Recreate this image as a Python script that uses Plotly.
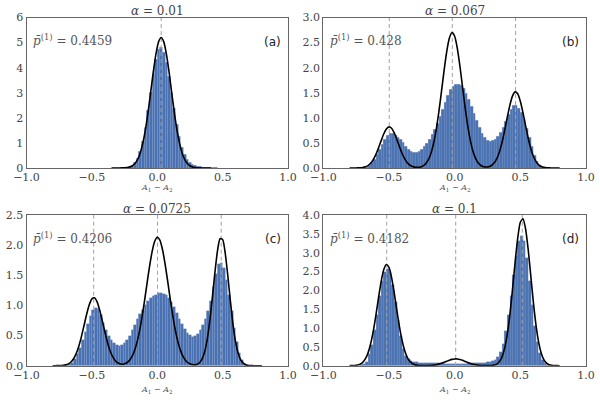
import plotly.graph_objects as go
from plotly.subplots import make_subplots

# ---------------- data ----------------
alphas = ["0.01", "0.067", "0.0725", "0.1"]
pbar = ["0.4459", "0.428", "0.4206", "0.4182"]
panel_tags = ["(a)", "(b)", "(c)", "(d)"]

hist_a_x = [-0.25, -0.23, -0.21, -0.19, -0.17, -0.15, -0.13, -0.11, -0.09, -0.07,
            -0.05, -0.03, -0.01, 0.01, 0.03, 0.05, 0.07, 0.09, 0.11, 0.13,
            0.15, 0.17, 0.19, 0.21, 0.23, 0.25, 0.27, 0.29, 0.31, 0.33,
            0.35, 0.37, 0.39, 0.41, 0.43, 0.45]
hist_a = [0.01, 0.02, 0.05, 0.11, 0.21, 0.39, 0.67, 1.07, 1.62, 2.29,
          3.02, 3.74, 4.34, 4.71, 4.79, 4.61, 4.21, 3.65, 3.01, 2.36,
          1.75, 1.24, 0.83, 0.53, 0.32, 0.20, 0.12, 0.08, 0.06, 0.05,
          0.04, 0.03, 0.02, 0.015, 0.01, 0.005]

hist_x = [-0.71, -0.69, -0.67, -0.65, -0.63, -0.61, -0.59, -0.57, -0.55, -0.53,
          -0.51, -0.49, -0.47, -0.45, -0.43, -0.41, -0.39, -0.37, -0.35, -0.33,
          -0.31, -0.29, -0.27, -0.25, -0.23, -0.21, -0.19, -0.17, -0.15, -0.13,
          -0.11, -0.09, -0.07, -0.05, -0.03, -0.01,
          0.01, 0.03, 0.05, 0.07, 0.09, 0.11, 0.13, 0.15, 0.17, 0.19,
          0.21, 0.23, 0.25, 0.27, 0.29, 0.31, 0.33, 0.35, 0.37, 0.39,
          0.41, 0.43, 0.45, 0.47, 0.49, 0.51, 0.53, 0.55, 0.57, 0.59,
          0.61, 0.63, 0.65, 0.67, 0.69, 0.71]
hist_b = [0.0,
          0.005, 0.02, 0.05, 0.10, 0.17, 0.26, 0.36, 0.47, 0.57, 0.64,
          0.68, 0.68, 0.64, 0.61, 0.57, 0.50, 0.43, 0.37, 0.33, 0.31,
          0.31, 0.33, 0.37, 0.42, 0.49, 0.57, 0.66, 0.77, 0.89, 1.03,
          1.17, 1.31, 1.45, 1.56, 1.63,
          1.66, 1.67, 1.64, 1.58, 1.48, 1.36, 1.22, 1.08, 0.94, 0.80,
          0.68, 0.60, 0.55, 0.53, 0.54, 0.57, 0.62, 0.70, 0.80, 0.93,
          1.06, 1.17, 1.24, 1.24, 1.19, 1.10, 0.96, 0.79, 0.60, 0.42,
          0.25, 0.12, 0.05, 0.015, 0.005,
          0.0]
hist_c = [0.0,
          0.005, 0.02, 0.05, 0.11, 0.19, 0.29, 0.42, 0.56, 0.70, 0.82,
          0.92, 0.96, 0.94, 0.84, 0.71, 0.60, 0.50, 0.43, 0.38, 0.34,
          0.33, 0.35, 0.38, 0.43, 0.50, 0.59, 0.68, 0.77, 0.85, 0.93,
          1.01, 1.08, 1.13, 1.16, 1.18,
          1.20, 1.21, 1.19, 1.17, 1.12, 1.05, 0.97, 0.88, 0.78, 0.69,
          0.61, 0.55, 0.51, 0.48, 0.49, 0.53, 0.59, 0.67, 0.77, 0.90,
          1.08, 1.31, 1.52, 1.68, 1.71, 1.62, 1.42, 1.17, 0.90, 0.63,
          0.40, 0.21, 0.09, 0.03, 0.01,
          0.0]
hist_d = [0.01, 0.04, 0.10, 0.30, 0.55, 0.95, 1.35, 1.85, 2.25, 2.50,
          2.58, 2.48, 2.15, 1.70, 1.20, 0.78, 0.45, 0.27, 0.17, 0.12,
          0.10, 0.09, 0.08, 0.08, 0.07, 0.07, 0.07, 0.06, 0.06, 0.06,
          0.06, 0.06, 0.05, 0.05, 0.05, 0.05,
          0.05, 0.05, 0.05, 0.05, 0.05, 0.06, 0.06, 0.06, 0.06, 0.07,
          0.07, 0.08, 0.09, 0.10, 0.12, 0.15, 0.24, 0.36, 0.58, 0.92,
          1.35, 1.85, 2.40, 2.90, 3.30, 3.45, 3.30, 2.85, 2.25, 1.60,
          1.05, 0.62, 0.33, 0.16, 0.06, 0.02]

curve_a_x = [-0.35, -0.33, -0.31, -0.29, -0.27, -0.25, -0.23, -0.21, -0.19, -0.17,
             -0.15, -0.13, -0.11, -0.09, -0.07, -0.05, -0.03, -0.01, 0.01, 0.03,
             0.05, 0.07, 0.09, 0.11, 0.13, 0.15, 0.17, 0.19, 0.21, 0.23,
             0.25, 0.27, 0.29, 0.31, 0.33, 0.35, 0.37, 0.39, 0.41]
curve_a = [0, 0, 0.001, 0.001, 0.003, 0.007, 0.017, 0.04, 0.088, 0.18,
           0.34, 0.60, 1.00, 1.54, 2.24, 3.03, 3.84, 4.54, 5.03, 5.2,
           5.03, 4.54, 3.84, 3.03, 2.24, 1.54, 1.00, 0.60, 0.34, 0.18,
           0.088, 0.04, 0.017, 0.007, 0.003, 0.001, 0.001, 0, 0]

curve_x = [-0.80, -0.78, -0.76, -0.74, -0.72, -0.70, -0.68, -0.66, -0.64, -0.62,
           -0.60, -0.58, -0.56, -0.54, -0.52, -0.50, -0.48, -0.46, -0.44, -0.42,
           -0.40, -0.38, -0.36, -0.34, -0.32, -0.30, -0.28, -0.26, -0.24, -0.22,
           -0.20, -0.18, -0.16, -0.14, -0.12, -0.10, -0.08, -0.06, -0.04, -0.02,
           0.00, 0.02, 0.04, 0.06, 0.08, 0.10, 0.12, 0.14, 0.16, 0.18,
           0.20, 0.22, 0.24, 0.26, 0.28, 0.30, 0.32, 0.34, 0.36, 0.38,
           0.40, 0.42, 0.44, 0.46, 0.48, 0.50, 0.52, 0.54, 0.56, 0.58,
           0.60, 0.62, 0.64, 0.66, 0.68, 0.70, 0.72, 0.74, 0.76, 0.78, 0.80]
curve_b = [0, 0, 0.001, 0.002, 0.004, 0.010, 0.023, 0.048, 0.093, 0.164,
           0.266, 0.396, 0.541, 0.678, 0.778, 0.820, 0.792, 0.701, 0.570, 0.425,
           0.290, 0.182, 0.105, 0.055, 0.028, 0.015, 0.013, 0.021, 0.043, 0.087,
           0.165, 0.295, 0.493, 0.770, 1.123, 1.531, 1.952, 2.327, 2.592, 2.700,
           2.627, 2.390, 2.033, 1.617, 1.202, 0.834, 0.542, 0.329, 0.187, 0.099,
           0.050, 0.027, 0.019, 0.026, 0.050, 0.099, 0.183, 0.316, 0.504, 0.740,
           1.001, 1.248, 1.433, 1.518, 1.481, 1.331, 1.104, 0.843, 0.594, 0.385,
           0.230, 0.127, 0.064, 0.030, 0.013, 0.005, 0.002, 0.001, 0, 0, 0]
curve_c = [0, 0, 0.001, 0.002, 0.006, 0.014, 0.030, 0.061, 0.115, 0.200,
           0.323, 0.482, 0.666, 0.853, 1.011, 1.109, 1.126, 1.059, 0.921, 0.743,
           0.554, 0.382, 0.244, 0.146, 0.081, 0.044, 0.028, 0.026, 0.040, 0.071,
           0.126, 0.215, 0.347, 0.528, 0.760, 1.037, 1.338, 1.632, 1.885, 2.060,
           2.130, 2.083, 1.927, 1.687, 1.398, 1.096, 0.813, 0.570, 0.379, 0.238,
           0.141, 0.079, 0.042, 0.023, 0.015, 0.020, 0.042, 0.099, 0.211, 0.409,
           0.709, 1.100, 1.526, 1.895, 2.106, 2.094, 1.864, 1.484, 1.058, 0.674,
           0.385, 0.197, 0.090, 0.037, 0.013, 0.004, 0.001, 0, 0, 0, 0]
curve_d = [0.001, 0.002, 0.006, 0.017, 0.040, 0.088, 0.179, 0.334, 0.575, 0.911,
           1.332, 1.794, 2.227, 2.548, 2.687, 2.612, 2.339, 1.931, 1.469, 1.030,
           0.665, 0.396, 0.217, 0.110, 0.051, 0.022, 0.009, 0.003, 0.002, 0.002,
           0.004, 0.008, 0.015, 0.026, 0.042, 0.064, 0.090, 0.119, 0.147, 0.168,
           0.179, 0.178, 0.164, 0.142, 0.114, 0.085, 0.059, 0.038, 0.023, 0.013,
           0.007, 0.003, 0.002, 0.003, 0.006, 0.016, 0.043, 0.104, 0.228, 0.452,
           0.818, 1.344, 2.010, 2.733, 3.382, 3.808, 3.898, 3.631, 3.077, 2.371,
           1.662, 1.060, 0.615, 0.325, 0.156, 0.068, 0.027, 0.010, 0.003, 0.001, 0]

peaks_a = [0.03]
peaks_b = [-0.498, -0.018, 0.464]
peaks_c = [-0.486, 0.002, 0.489]
peaks_d = [-0.517, 0.008, 0.515]

x_tickvals = [-1.0, -0.5, 0.0, 0.5, 1.0]
x_ticktext = ["\u22121.0", "\u22120.5", "0.0", "0.5", "1.0"]
y_ticks_a = [0, 1, 2, 3, 4, 5, 6]
y_ticktext_a = ["0", "1", "2", "3", "4", "5", "6"]
y_ticks_b = [0, 0.5, 1.0, 1.5, 2.0, 2.5, 3.0]
y_ticks_c = [0, 0.5, 1.0, 1.5, 2.0, 2.5]
y_ticks_d = [0, 0.5, 1.0, 1.5, 2.0, 2.5, 3.0, 3.5, 4.0]
y_ranges = [[0, 6], [0, 3], [0, 2.5], [0, 4]]

# ---------------- figure ----------------
fig = make_subplots(rows=2, cols=2)

panels = [
    (1, 1, hist_a_x, hist_a, curve_a_x, curve_a, peaks_a),
    (1, 2, hist_x, hist_b, curve_x, curve_b, peaks_b),
    (2, 1, hist_x, hist_c, curve_x, curve_c, peaks_c),
    (2, 2, hist_x, hist_d, curve_x, curve_d, peaks_d),
]

BAR = "#4A72B2"
for i, (r, c, hx, hy, cx, cy, pk) in enumerate(panels):
    fig.add_trace(go.Bar(x=hx, y=hy, width=0.02, marker=dict(color=BAR,
                  line=dict(color="rgba(120,150,200,0.6)", width=0.3)),
                  showlegend=False, hoverinfo="skip"), row=r, col=c)
    ymax = y_ranges[i][1]
    for p in pk:
        fig.add_trace(go.Scatter(x=[p, p], y=[0, ymax], mode="lines",
                                 line=dict(color="#a0a0a0", width=1, dash="4px,3px"),
                                 showlegend=False, hoverinfo="skip"), row=r, col=c)
    fig.add_trace(go.Scatter(x=cx, y=cy, mode="lines",
                             line=dict(color="black", width=1.6, shape="spline", smoothing=0.6),
                             showlegend=False, hoverinfo="skip"), row=r, col=c)

# domains in pixels (600x400)
W, H = 600.0, 400.0
dom = {
    1: ([26.5 / W, 288 / W], [1 - 168 / H, 1 - 17.5 / H]),
    2: ([323.3 / W, 586 / W], [1 - 168 / H, 1 - 17.5 / H]),
    3: ([26.5 / W, 288 / W], [1 - 365.7 / H, 1 - 215 / H]),
    4: ([323.3 / W, 586 / W], [1 - 365.7 / H, 1 - 215 / H]),
}
ytv = [y_ticks_a, y_ticks_b, y_ticks_c, y_ticks_d]
ytt = [y_ticktext_a,
       ["%.1f" % v for v in y_ticks_b],
       ["%.1f" % v for v in y_ticks_c],
       ["%.1f" % v for v in y_ticks_d]]

tickfont = dict(family="DejaVu Serif", size=11, color="#444444")
axis_common = dict(showgrid=False, zeroline=False, showline=True, mirror=True,
                   linecolor="#666666", linewidth=1, ticks="", tickfont=tickfont,
                   automargin=False)
for k in range(1, 5):
    sx = "" if k == 1 else str(k)
    fig.layout["xaxis" + sx].update(domain=dom[k][0], range=[-1, 1],
                                    tickvals=x_tickvals, ticktext=x_ticktext,
                                    ticklabelstandoff=-1, **axis_common)
    fig.layout["yaxis" + sx].update(domain=dom[k][1], range=y_ranges[k - 1],
                                    tickvals=ytv[k - 1], ticktext=ytt[k - 1],
                                    ticklabelstandoff=0, **axis_common)

annots = []
xlab_y = [1 - 188 / H, 1 - 188 / H, 1 - 390 / H, 1 - 390 / H]
for k in range(1, 5):
    sx = "" if k == 1 else str(k)
    xd = "x" + sx + " domain"
    yd = "y" + sx + " domain"
    annots.append(dict(xref=xd, yref=yd, x=0.5, y=1.0, yanchor="bottom", yshift=-3,
                       text="<i>\u03b1</i> = " + alphas[k - 1], showarrow=False,
                       font=dict(family="DejaVu Serif", size=12, color="#444444")))
    annots.append(dict(xref=xd, yref=yd, x=0.018, y=0.85, xanchor="left", yanchor="middle",
                       text="<i>p\u0304</i><sup>(1)</sup> = " + pbar[k - 1], showarrow=False,
                       font=dict(family="DejaVu Serif", size=12, color="#555555")))
    annots.append(dict(xref=xd, yref=yd, x=0.982, y=0.84, xanchor="right", yanchor="middle",
                       text=panel_tags[k - 1], showarrow=False,
                       font=dict(family="DejaVu Sans", size=12, color="#222222")))
    annots.append(dict(xref=xd, yref="paper", x=0.5, y=xlab_y[k - 1], yanchor="middle",
                       text="<i>A</i><sub>1</sub> \u2212 <i>A</i><sub>2</sub>", showarrow=False,
                       font=dict(family="DejaVu Serif", size=8, color="#555555")))

fig.update_layout(width=600, height=400, margin=dict(l=0, r=0, t=0, b=0, autoexpand=False),
                  paper_bgcolor="white", plot_bgcolor="white", bargap=0,
                  annotations=annots, showlegend=False, hovermode=False)

fig.write_html("out.html", config={"displayModeBar": False},
               post_script="document.body.style.margin='0';document.body.style.overflow='hidden';")
